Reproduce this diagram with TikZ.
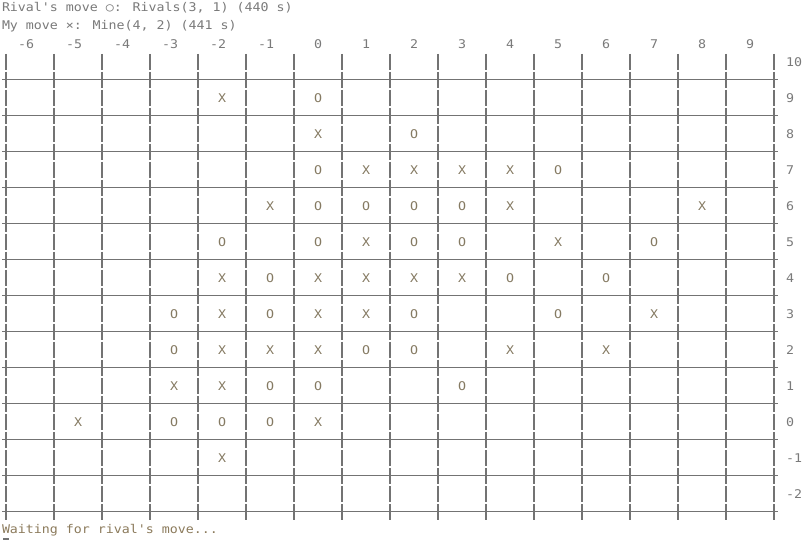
\documentclass[tikz,border=0pt]{standalone}
\usepackage{fontspec}
\newfontfamily\term[FakeStretch=1.107]{DejaVu Sans Mono}
\definecolor{gridc}{HTML}{737373}
\definecolor{labelc}{HTML}{7A7A7A}
\definecolor{piecec}{HTML}{857A62}
\definecolor{waitc}{HTML}{8C7B5C}
\begin{document}
\begin{tikzpicture}[x=1pt,y=-1pt,
  every node/.style={inner sep=0pt,outer sep=0pt,font=\term\fontsize{12}{18}\selectfont},
  hline/.style={draw=gridc,line width=1.1pt},
  vline/.style={draw=gridc,line width=1.1pt,dash pattern=on 16pt off 2pt},
  header/.style={anchor=base west,text=labelc},
  collabel/.style={anchor=base east,text=labelc},
  rowlabel/.style={anchor=base west,text=labelc},
  piece/.style={anchor=base,text=piecec},
  waiting/.style={anchor=base west,text=waitc}]
\fill[white] (0,0) rectangle (812,540);
\useasboundingbox (0,0) rectangle (812,540);
% header
\node[header] (h1) at (2,11.5) {Rival's move ○: Rivals(3, 1) (440 s)};
\node[header] (h2) at (2,30) {My move ×: Mine(4, 2) (441 s)};
% column labels
\foreach \c in {-6,...,9}
  \node[collabel] (col\c) at ({34+48*(\c+6)},48.5) {\c};
% row labels
\foreach \r in {-2,...,10}
  \node[rowlabel] (row\r) at (786,{66.5+36*(10-\r)}) {\r};
% horizontal lines
\foreach \k in {0,...,12}
  \draw[hline] (2,{79.5+36*\k}) -- (778,{79.5+36*\k});
% vertical lines
\foreach \i in {0,...,16}
  \draw[vline] ({6+48*\i},54) -- ({6+48*\i},520);
% pieces
\foreach \c/\r/\p in {
  -2/9/X, 0/9/O,
  0/8/X, 2/8/O,
  0/7/O, 1/7/X, 2/7/X, 3/7/X, 4/7/X, 5/7/O,
  -1/6/X, 0/6/O, 1/6/O, 2/6/O, 3/6/O, 4/6/X, 8/6/X,
  -2/5/O, 0/5/O, 1/5/X, 2/5/O, 3/5/O, 5/5/X, 7/5/O,
  -2/4/X, -1/4/O, 0/4/X, 1/4/X, 2/4/X, 3/4/X, 4/4/O, 6/4/O,
  -3/3/O, -2/3/X, -1/3/O, 0/3/X, 1/3/X, 2/3/O, 5/3/O, 7/3/X,
  -3/2/O, -2/2/X, -1/2/X, 0/2/X, 1/2/O, 2/2/O, 4/2/X, 6/2/X,
  -3/1/X, -2/1/X, -1/1/O, 0/1/O, 3/1/O,
  -5/0/X, -3/0/O, -2/0/O, -1/0/O, 0/0/X,
  -2/-1/X}
  \node[piece] (pc\c r\r) at ({30+48*(\c+6)},{66.5+36*(10-\r)}) {\p};
% footer
\node[waiting] (wait) at (2,533) {Waiting for rival's move...};
\draw[draw=gridc,line width=1.5pt] (3,539) -- (9,539);
\end{tikzpicture}
\end{document}
